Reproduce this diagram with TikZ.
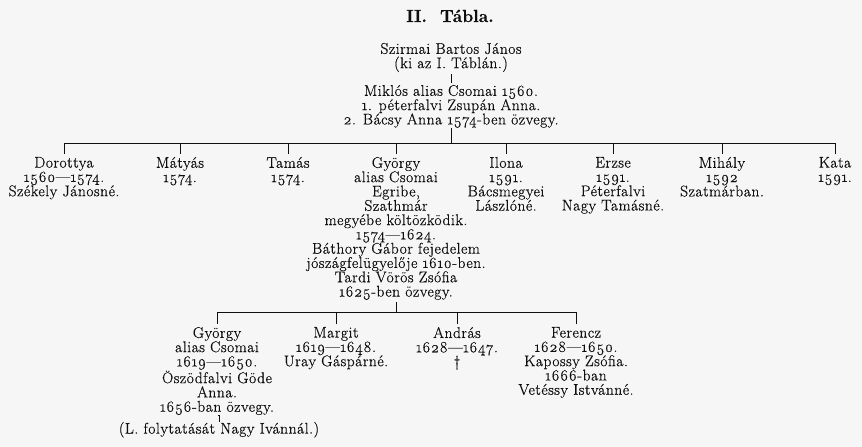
\documentclass[tikz,border=0pt]{standalone}
\usepackage{fontspec}
\setmainfont{Latin Modern Roman}[Numbers=OldStyle,FakeBold=0.6]
\newfontfamily\personfont{Latin Modern Roman}[Numbers=OldStyle,FakeBold=0.6,LetterSpace=3.5]
\definecolor{paper}{RGB}{246,246,246}
\definecolor{ink}{RGB}{15,15,15}
\begin{document}
\begin{tikzpicture}[x=1pt,y=-1pt,
  every node/.style={inner sep=0pt,outer sep=0pt,text=ink},
  person/.style={anchor=north,align=center,
    font=\personfont\fontsize{15.5}{14.3}\selectfont,
    execute at begin node={\rule{0pt}{11pt}}},
  titlebox/.style={anchor=base,font=\bfseries\fontsize{17.5}{20}\selectfont},
  link/.style={draw=ink,line width=0.8pt},
  tick/.style={link,shorten >=3pt}]
\fill[paper] (0,0) rectangle (862,447);
\useasboundingbox (0,0) rectangle (862,447);

\node[titlebox] (title) at (450,22) {II.\ \ Tábla.};

\node[person] (root) at (451,43) {Szirmai Bartos János\\(ki az I. Táblán.)};
\node[person] (mik) at (451,85) {Miklós alias Csomai 1560.\\1. péterfalvi Zsupán Anna.\\2. Bácsy Anna 1574-ben özvegy.};
\draw[link,shorten <=2pt,shorten >=2pt] (root.south) -- (mik.north);

% first generation
\coordinate (bus1) at (451,143);
\node[person] (dor) at (64,157) {Dorottya\\1560—1574.\\Székely Jánosné.};
\node[person] (mat) at (180,157) {Mátyás\\1574.};
\node[person] (tam) at (288,157) {Tamás\\1574.};
\node[person] (gy1) at (396,157) {György\\alias Csomai\\Egribe,\\Szathmár\\megyébe költözködik.\\1574—1624.\\Báthory Gábor fejedelem\\jószágfelügyelője 1610-ben.\\Tardi Vörös Zsófia\\1625-ben özvegy.};
\node[person] (ilo) at (506,157) {Ilona\\1591.\\Bácsmegyei\\Lászlóné.};
\node[person] (erz) at (613,157) {Erzse\\1591.\\Péterfalvi\\Nagy Tamásné.};
\node[person] (mih) at (722,157) {Mihály\\1592\\Szatmárban.};
\node[person] (kat) at (835,157) {Kata\\1591.};

\draw[link] (mik.south) -- (mik.south |- bus1);
\draw[link] (dor.north |- bus1) -- (kat.north |- bus1);
\foreach \c in {dor,mat,tam,gy1,ilo,erz,mih,kat}
  \draw[tick] (\c.north |- bus1) -- (\c.north);

% second generation
\coordinate (bus2) at (396,312);
\node[person] (gy2) at (217,327) {György\\alias Csomai\\1619—1650.\\Öszödfalvi Göde\\Anna.\\1656-ban özvegy.};
\node[person] (mar) at (336,327) {Margit\\1619—1648.\\Uray Gáspárné.};
\node[person] (and) at (457,327) {András\\1628—1647.\\†};
\node[person] (fer) at (576,327) {Ferencz\\1628—1650.\\Kapossy Zsófia.\\1666-ban\\Vetéssy Istvánné.};

\draw[link,shorten <=2pt] (gy1.south) -- (gy1.south |- bus2);
\draw[link] (gy2.north |- bus2) -- (fer.north |- bus2);
\foreach \c in {gy2,mar,and,fer}
  \draw[tick] (\c.north |- bus2) -- (\c.north);

\node[person] (lf) at (219,422) {(L. folytatását Nagy Ivánnál.)};
\draw[link,shorten <=1pt] (gy2.south) -- (gy2.south -| lf.north) -- (lf.north);
\end{tikzpicture}
\end{document}
